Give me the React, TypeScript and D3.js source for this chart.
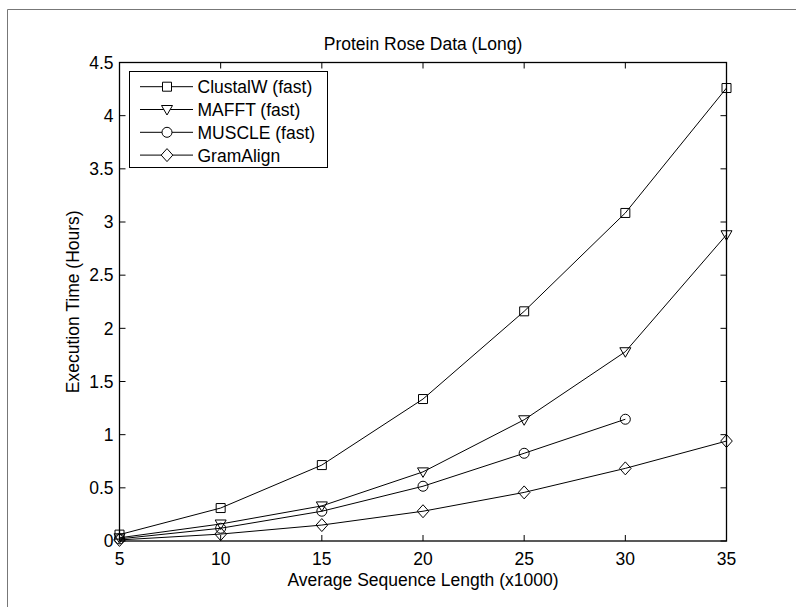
import React, { useEffect, useRef } from "react";
import * as d3 from "d3";

const lengths = [5, 10, 15, 20, 25, 30, 35];
const clustalw = [0.06, 0.31, 0.714, 1.335, 2.16, 3.085, 4.26];
const mafft = [0.03, 0.16, 0.33, 0.65, 1.14, 1.78, 2.88];
const muscle = [0.02, 0.12, 0.28, 0.515, 0.825, 1.145];
const gramalign = [0.01, 0.065, 0.15, 0.28, 0.457, 0.683, 0.94];
const seriesNames = ["ClustalW (fast)", "MAFFT (fast)", "MUSCLE (fast)", "GramAlign"];
const xTicks = [5, 10, 15, 20, 25, 30, 35];
const yTicks = [0, 0.5, 1, 1.5, 2, 2.5, 3, 3.5, 4, 4.5];

const FONT = "'Liberation Sans', Arial, Helvetica, sans-serif";
const FS = 17.5;

// marker path centred on 0,0
const markerPath = (kind: string) => {
  if (kind === "square") return "M-4.5,-4.5H4.5V4.5H-4.5Z";
  if (kind === "triangle") return "M-5.5,-4L5.5,-4L0,5.5Z";
  if (kind === "circle") return "M5,0A5,5 0 1,1 -5,0A5,5 0 1,1 5,0Z";
  return "M0,-6.5L5.8,0L0,6.5L-5.8,0Z";
};

const App = () => {
  const svgRef = useRef<SVGSVGElement>(null);

  useEffect(() => {
    const width = 796, height = 607;
    const svg = d3.select(svgRef.current);
    svg.selectAll("*").remove();

    const left = 119.5, right = 726.5, top = 62.5, bottom = 541;
    const x = d3.scaleLinear().domain([5, 35]).range([left, right]);
    const y = d3.scaleLinear().domain([0, 4.5]).range([bottom, top]);

    svg.attr("width", width).attr("height", height);

    // figure frame (left and top edges only visible)
    svg.append("path")
      .attr("d", `M7.5,${height}V9.5H${width}`)
      .attr("fill", "none")
      .attr("stroke", "#777")
      .attr("stroke-width", 1);

    const series = [
      { name: seriesNames[0], values: clustalw, marker: "square" },
      { name: seriesNames[1], values: mafft, marker: "triangle" },
      { name: seriesNames[2], values: muscle, marker: "circle" },
      { name: seriesNames[3], values: gramalign, marker: "diamond" },
    ];

    const line = d3.line<number>()
      .x((d, i) => x(lengths[i]))
      .y(d => y(d));

    const plot = svg.append("g");
    series.forEach(s => {
      plot.append("path")
        .attr("d", line(s.values))
        .attr("fill", "none")
        .attr("stroke", "#000")
        .attr("stroke-width", 1);
      plot.selectAll(null)
        .data(s.values)
        .enter()
        .append("path")
        .attr("d", markerPath(s.marker))
        .attr("transform", (d, i) => `translate(${x(lengths[i])},${y(d)})`)
        .attr("fill", "none")
        .attr("stroke", "#000")
        .attr("stroke-width", 1);
    });

    // axes box
    svg.append("rect")
      .attr("x", left).attr("y", top)
      .attr("width", right - left).attr("height", bottom - top)
      .attr("fill", "none").attr("stroke", "#000").attr("stroke-width", 1.3);

    const axes = svg.append("g").attr("stroke", "#000").attr("stroke-width", 1);
    xTicks.forEach(t => {
      axes.append("line").attr("x1", x(t)).attr("x2", x(t)).attr("y1", bottom).attr("y2", bottom - 6);
      axes.append("line").attr("x1", x(t)).attr("x2", x(t)).attr("y1", top).attr("y2", top + 6);
    });
    yTicks.forEach(t => {
      axes.append("line").attr("x1", left).attr("x2", left + 6).attr("y1", y(t)).attr("y2", y(t));
      axes.append("line").attr("x1", right).attr("x2", right - 6).attr("y1", y(t)).attr("y2", y(t));
    });

    const text = svg.append("g").attr("font-family", FONT).attr("font-size", FS).attr("fill", "#000");
    xTicks.forEach(t => {
      text.append("text").attr("x", x(t)).attr("y", 565).attr("text-anchor", "middle").text(String(t));
    });
    yTicks.forEach(t => {
      text.append("text").attr("x", 113.5).attr("y", y(t) + 6.3).attr("text-anchor", "end").text(String(t));
    });

    text.append("text").attr("x", (left + right) / 2).attr("y", 586).attr("text-anchor", "middle")
      .text("Average Sequence Length (x1000)");
    text.append("text")
      .attr("transform", `translate(79,${(top + bottom) / 2}) rotate(-90)`)
      .attr("text-anchor", "middle")
      .text("Execution Time (Hours)");
    text.append("text").attr("x", (left + right) / 2).attr("y", 50).attr("text-anchor", "middle")
      .text("Protein Rose Data (Long)");

    // legend
    const lg = svg.append("g");
    lg.append("rect")
      .attr("x", 129.5).attr("y", 71.5).attr("width", 198).attr("height", 96)
      .attr("fill", "#fff").attr("stroke", "#000").attr("stroke-width", 1);
    series.forEach((s, i) => {
      const cy = 86.7 + i * 22.8;
      lg.append("line").attr("x1", 140).attr("x2", 193).attr("y1", cy).attr("y2", cy)
        .attr("stroke", "#000").attr("stroke-width", 1);
      lg.append("path").attr("d", markerPath(s.marker))
        .attr("transform", `translate(167,${cy})`)
        .attr("fill", "#fff").attr("stroke", "#000").attr("stroke-width", 1);
      lg.append("text").attr("x", 197.5).attr("y", cy + 6.4)
        .attr("font-family", FONT).attr("font-size", FS).text(s.name);
    });
  }, []);

  return <svg ref={svgRef} style={{ position: "absolute", left: 0, top: 0 }}></svg>;
};

export default App;
